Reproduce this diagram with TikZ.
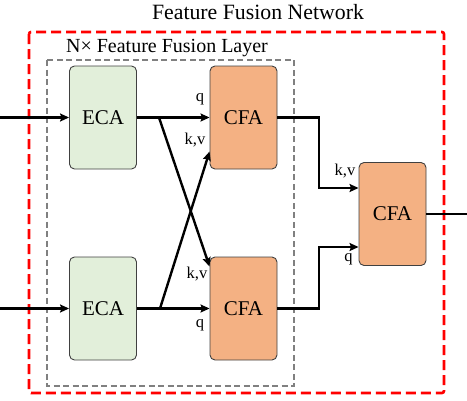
\documentclass[tikz,border=0pt]{standalone}
\usepackage{fontspec}
\setmainfont{Liberation Serif}
\usetikzlibrary{arrows.meta,calc}
\definecolor{ecagreen}{HTML}{E2EFDA}
\definecolor{cfaorange}{HTML}{F4B183}
\definecolor{boxborder}{HTML}{404040}
\definecolor{dashred}{HTML}{FF0000}
\begin{document}
\begin{tikzpicture}[x=1pt,y=-1pt,
  blockbox/.style={draw=boxborder, line width=0.9pt, rounded corners=5pt,
    minimum width=67pt, minimum height=103pt, inner sep=0pt,
    font=\fontsize{21}{25}\selectfont},
  ecabox/.style={blockbox, fill=ecagreen},
  cfabox/.style={blockbox, fill=cfaorange},
  conn/.style={line width=2.4pt, line join=miter},
  arr/.style={conn, -{Stealth[length=9pt,width=8pt,inset=1.5pt]}},
  lbl/.style={font=\fontsize{16.5}{19}\selectfont, inner sep=0pt}
]
\useasboundingbox (0,0) rectangle (467,400);
% frames
\draw[dashred, line width=2.6pt, dash pattern=on 10pt off 5pt, rounded corners=2pt] (29,32) rectangle (444,393);
\draw[gray, line width=1.3pt, dash pattern=on 6pt off 3.5pt] (47,60) rectangle (294,386);
\node[font=\fontsize{21.8}{25}\selectfont, inner sep=0pt] (title) at (258,12) {Feature Fusion Network};
\node[font=\fontsize{20}{24}\selectfont, inner sep=0pt] (layer) at (167,48) {N× Feature Fusion Layer};
% blocks
\node[ecabox] (eca1) at (103,117.5) {ECA};
\node[ecabox] (eca2) at (103,308.5) {ECA};
\node[cfabox] (cfa1) at (243.5,117.5) {CFA};
\node[cfabox] (cfa2) at (243.5,308.5) {CFA};
\node[cfabox] (cfa3) at (392.5,214) {CFA};
% coordinates
\coordinate (in1) at (0,117.5);
\coordinate (in2) at (0,308.5);
\coordinate (out) at (467,214);
\coordinate (s1) at (159,117.5);
\coordinate (s2) at (160,308.5);
\coordinate (j1) at (319,117.5);
\coordinate (j2) at (319,308.5);
% connectors
\draw[arr] (in1) -- (eca1.west);
\draw[arr] (in2) -- (eca2.west);
\draw[arr] (eca1.east) -- (cfa1.west);
\draw[arr] (eca2.east) -- (cfa2.west);
\draw[arr] (s1) -- ([yshift=42pt]cfa2.west);
\draw[arr] (s2) -- ([yshift=-34pt]cfa1.west);
\draw[arr] (cfa1.east) -- (j1) |- ([yshift=26pt]cfa3.west);
\draw[arr] (cfa2.east) -- (j2) |- ([yshift=-33pt]cfa3.west);
\draw[conn] (cfa3.east) -- (out);
% labels
\node[lbl] (q1) at (200,99) {q};
\node[lbl] (kv1) at (195,140) {k,v};
\node[lbl] (kv2) at (197,274) {k,v};
\node[lbl] (q2) at (200,325) {q};
\node[lbl] (kv3) at (345,171) {k,v};
\node[lbl] (q3) at (348.5,259) {q};
\end{tikzpicture}
\end{document}
